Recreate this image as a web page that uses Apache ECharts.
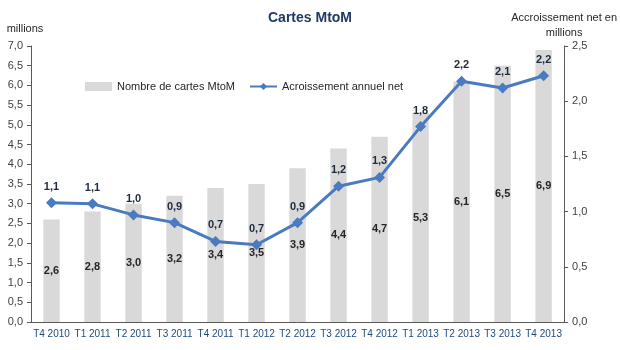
<!DOCTYPE html>
<html>
<head>
<meta charset="utf-8">
<script src="https://cdn.jsdelivr.net/npm/echarts@6/dist/echarts.min.js"></script>
<style>
  html, body { margin: 0; padding: 0; background: #fff; }
  #chart { width: 620px; height: 350px; }
</style>
</head>
<body>
<div id="chart"></div>
<script>
// trimestres
const categories = ['T4 2010', 'T1 2011', 'T2 2011', 'T3 2011', 'T4 2011', 'T1 2012', 'T2 2012',
  'T3 2012', 'T4 2012', 'T1 2013', 'T2 2013', 'T3 2013', 'T4 2013'];
// nombre de cartes (millions)
const cartes = [2.6, 2.8, 3.0, 3.2, 3.4, 3.5, 3.9, 4.4, 4.7, 5.3, 6.1, 6.5, 6.9];
// accroissement annuel net (millions)
const accroissement = [1.08, 1.07, 0.97, 0.9, 0.73, 0.7, 0.9, 1.23, 1.31, 1.77, 2.18, 2.12, 2.23];

const fr = v => Number(v).toFixed(1).replace('.', ',');
const font = 'Liberation Sans, Arial, sans-serif';

const myChart = echarts.init(document.getElementById('chart'));

const option = {
  animation: false,
  textStyle: { fontFamily: font },
  title: {
    text: 'Cartes MtoM',
    left: 'center',
    top: 6,
    textStyle: { fontSize: 14, fontWeight: 'bold', color: '#1f3864', fontFamily: font }
  },
  legend: {
    left: 80,
    top: 76,
    itemGap: 14,
    itemWidth: 27,
    itemHeight: 9,
    textStyle: { fontSize: 11, color: '#262626', fontFamily: font },
    data: [
      { name: 'Nombre de cartes MtoM', icon: 'rect' },
      { name: 'Acroissement annuel net' }
    ]
  },
  grid: { left: 31, right: 54, top: 46, bottom: 28 },
  xAxis: {
    type: 'category',
    data: categories,
    axisLine: { lineStyle: { color: '#595959' } },
    axisTick: { lineStyle: { color: '#595959' }, length: 4 },
    axisLabel: { color: '#1f497d', fontSize: 10, margin: 7, interval: 0, hideOverlap: false }
  },
  yAxis: [
    {
      type: 'value',
      min: 0, max: 7, interval: 0.5,
      name: 'millions',
      nameLocation: 'end',
      nameGap: 12,
      nameTextStyle: { color: '#262626', fontSize: 11, align: 'center', padding: [0, 12, 0, 0] },
      axisLine: { show: true, lineStyle: { color: '#595959' } },
      axisTick: { show: true, length: 4, lineStyle: { color: '#595959' } },
      splitLine: { show: false },
      axisLabel: { color: '#404040', fontSize: 11, margin: 8, formatter: fr }
    },
    {
      type: 'value',
      min: 0, max: 2.5, interval: 0.5,
      name: 'Accroissement net en\nmillions',
      nameLocation: 'end',
      nameGap: 6,
      nameTextStyle: { color: '#262626', fontSize: 11, align: 'center', lineHeight: 15 },
      axisLine: { show: true, lineStyle: { color: '#595959' } },
      axisTick: { show: true, length: 4, lineStyle: { color: '#595959' } },
      splitLine: { show: false },
      axisLabel: { color: '#404040', fontSize: 11, margin: 8, formatter: fr }
    }
  ],
  series: [
    {
      name: 'Nombre de cartes MtoM',
      type: 'bar',
      yAxisIndex: 0,
      barWidth: '40%',
      itemStyle: { color: '#d9d9d9' },
      label: {
        show: true,
        position: 'inside',
        color: '#262626',
        fontSize: 11,
        fontWeight: 'bold',
        formatter: p => fr(p.value)
      },
      data: cartes
    },
    {
      name: 'Acroissement annuel net',
      type: 'line',
      yAxisIndex: 1,
      symbol: 'diamond',
      symbolSize: 11,
      lineStyle: { color: '#4a7bc0', width: 3 },
      itemStyle: { color: '#4a7bc0' },
      label: {
        show: true,
        position: 'top',
        distance: 5,
        color: '#1f2a3a',
        fontSize: 11,
        fontWeight: 'bold',
        formatter: p => fr(p.value)
      },
      data: accroissement
    }
  ]
};

myChart.setOption(option);
</script>
</body>
</html>
